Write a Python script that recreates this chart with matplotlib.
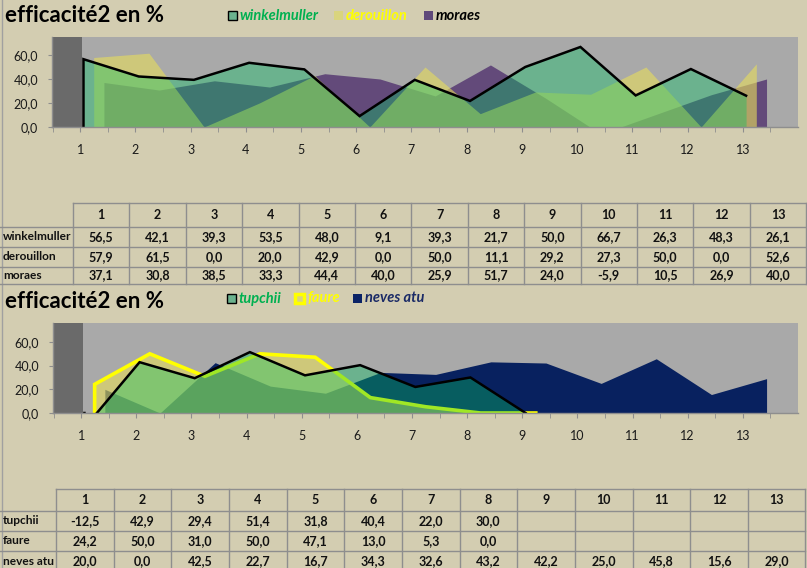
import matplotlib.pyplot as plt
import numpy as np
from matplotlib.patches import Rectangle

plt.rcParams['font.family'] = ['Lato', 'DejaVu Sans']

W, H = 807, 568
TAN = '#D3CDB1'
PLOT_BG = '#A9A9A9'
WALL = '#6A6A6A'
GRID = '#8E8E8E'

cats = list(range(1, 14))

# top chart / table
winkelmuller = [56.5, 42.1, 39.3, 53.5, 48.0, 9.1, 39.3, 21.7, 50.0, 66.7, 26.3, 48.3, 26.1]
derouillon = [57.9, 61.5, 0.0, 20.0, 42.9, 0.0, 50.0, 11.1, 29.2, 27.3, 50.0, 0.0, 52.6]
moraes = [37.1, 30.8, 38.5, 33.3, 44.4, 40.0, 25.9, 51.7, 24.0, -5.9, 10.5, 26.9, 40.0]

# bottom chart / table (None = empty cell)
tupchii = [-12.5, 42.9, 29.4, 51.4, 31.8, 40.4, 22.0, 30.0, None, None, None, None, None]
faure = [24.2, 50.0, 31.0, 50.0, 47.1, 13.0, 5.3, 0.0, None, None, None, None, None]
neves_atu = [20.0, 0.0, 42.5, 22.7, 16.7, 34.3, 32.6, 43.2, 42.2, 25.0, 45.8, 15.6, 29.0]

yticks = [0, 20, 40, 60]


def fmt(v):
    return f"{v:.1f}".replace('.', ',')


def rect(x0, y0, x1, y1):
    return [x0 / W, 1 - y1 / H, (x1 - x0) / W, (y1 - y0) / H]


def as_arr(vals):
    return np.array([np.nan if v is None else v for v in vals], dtype=float)


fig = plt.figure(figsize=(W / 100, H / 100), dpi=100, facecolor=TAN)
bg = fig.add_axes([0, 0, 1, 1])
bg.set_xlim(0, W)
bg.set_ylim(H, 0)
bg.axis('off')
bg.plot([1.5, 1.5], [0, H], color='#A0A0A0', lw=1)


def draw_table(row_edges, label_w, col_w, names, series):
    xe = [label_w + col_w * k for k in range(len(cats) + 1)]
    bg.plot([label_w, xe[-1]], [row_edges[0]] * 2, color=GRID, lw=1)
    for y in row_edges[1:]:
        bg.plot([0, xe[-1]], [y, y], color=GRID, lw=1)
    for x in xe:
        bg.plot([x, x], [row_edges[0], row_edges[-1]], color=GRID, lw=1)
    yc = (row_edges[0] + row_edges[1]) / 2
    for i, c in enumerate(cats):
        bg.text((xe[i] + xe[i + 1]) / 2, yc, str(c), ha='center', va='center',
                fontsize=9, fontweight='bold', color='#111111')
    for r, (name, vals) in enumerate(zip(names, series)):
        yc = (row_edges[r + 1] + row_edges[r + 2]) / 2
        bg.text(3, yc, name, ha='left', va='center', fontsize=8.6,
                fontweight='bold', color='#111111')
        for i, v in enumerate(vals):
            if v is None:
                continue
            bg.text((xe[i] + xe[i + 1]) / 2, yc, fmt(v), ha='center', va='center',
                    fontsize=9, fontweight='bold', color='#111111')


def draw_legend(y, items):
    for x, face, edge, lw, label, tcolor in items:
        bg.add_patch(Rectangle((x, y - 4.5), 8.5, 8.5, facecolor=face,
                               edgecolor=edge, lw=lw))
        bg.text(x + 12, y, label, ha='left', va='center', fontsize=10.5,
                fontweight='bold', fontstyle='italic', color=tcolor)


def draw_chart(box, layers, ymax):
    ax = fig.add_axes(rect(*box))
    ax.set_facecolor(PLOT_BG)
    ax.set_xlim(0.49, 14.0)
    ax.set_ylim(0, ymax)
    ax.axvspan(0.49, 1.03, color=WALL, zorder=0.5, lw=0)
    x = np.array(cats, dtype=float)
    for k, (vals, off, color, alpha, edge, elw) in enumerate(layers):
        v = as_arr(vals)
        n_line = int(np.max(np.where(~np.isnan(v))[0])) + 2
        n_line = min(n_line, len(v))
        v = np.nan_to_num(v)
        xs = x + off
        z = 1 + 0.2 * k
        ax.fill_between(xs, v, 0, color=color, alpha=alpha, lw=0, zorder=z)
        if edge is not None:
            ax.plot(np.r_[xs[0], xs[:n_line]], np.r_[0, v[:n_line]],
                    color=edge, lw=elw, zorder=z + 0.1, solid_joinstyle='miter')
    ax.set_xticks(cats)
    ax.set_xticklabels([str(c) for c in cats])
    ax.set_xticks(np.arange(0.5, 14.0, 1.0), minor=True)
    ax.set_yticks(yticks)
    ax.set_yticklabels([fmt(t) for t in yticks])
    ax.tick_params(axis='x', which='both', length=3.5, color=GRID, pad=9,
                   labelsize=9, labelcolor='#1A1A1A')
    ax.tick_params(axis='y', length=3, color=GRID, pad=7, labelsize=9,
                   labelcolor='#1A1A1A')
    for s in ('top', 'right'):
        ax.spines[s].set_visible(False)
    for s in ('left', 'bottom'):
        ax.spines[s].set_color(GRID)
        ax.spines[s].set_linewidth(1)
        ax.spines[s].set_zorder(3)
    return ax


GREEN = '#06C162'
YELLOW = '#E8DE5B'
PURPLE = '#634A7A'
NAVY = '#08215F'

# ---- top chart
bg.text(5, 15, 'efficacité2 en %', ha='left', va='center', fontsize=16,
        fontweight='bold', color='black')
draw_legend(15.5, [
    (228, '#6BB28E', 'black', 1.0, 'winkelmuller', '#00B050'),
    (334, '#D9D47E', 'none', 0, 'derouillon', '#FFFF00'),
    (424, '#5F497A', 'none', 0, 'moraes', 'black'),
])
draw_chart((52, 37, 798, 127), [
    (moraes, 0.43, PURPLE, 1.0, None, 0),
    (derouillon, 0.245, YELLOW, 0.6, None, 0),
    (winkelmuller, 0.06, GREEN, 0.38, 'black', 1.8),
], 75)
draw_table([203, 227, 247, 267, 284], 73, 56.4,
           ['winkelmuller', 'derouillon', 'moraes'],
           [winkelmuller, derouillon, moraes])

# ---- bottom chart
bg.text(5, 301, 'efficacité2 en %', ha='left', va='center', fontsize=16,
        fontweight='bold', color='black')
draw_legend(298.5, [
    (227, '#6BB28E', 'black', 1.0, 'tupchii', '#00B050'),
    (295, '#D9D47E', '#FFFF00', 2.5, 'faure', '#FFFF00'),
    (353, '#0A2366', 'none', 0, 'neves atu', '#1A2A66'),
])
draw_chart((53, 323, 798, 413), [
    (neves_atu, 0.43, NAVY, 1.0, None, 0),
    (faure, 0.245, YELLOW, 0.6, '#FFFF00', 2.6),
    (tupchii, 0.06, GREEN, 0.38, 'black', 1.8),
], 76)
draw_table([489, 511, 531, 551, 572], 56, 57.65,
           ['tupchii', 'faure', 'neves atu'],
           [tupchii, faure, neves_atu])

fig.savefig('out.png', dpi=100, facecolor=TAN)
